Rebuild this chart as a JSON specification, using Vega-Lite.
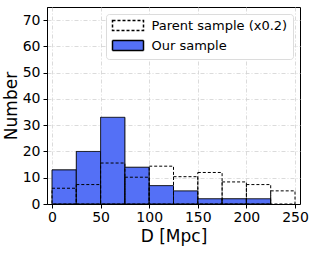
{
  "$schema": "https://vega.github.io/schema/vega-lite/v6.json",
  "autosize": {"type": "none"},
  "padding": {"left": 47, "top": 7, "right": 16, "bottom": 49},
  "width": 253,
  "height": 197,
  "config": {
    "font": "DejaVu Sans",
    "view": {"stroke": "black", "strokeWidth": 1},
    "axis": {
      "domainColor": "black", "tickColor": "black", "tickSize": 4,
      "labelColor": "black", "titleColor": "black",
      "labelFont": "DejaVu Sans", "titleFont": "DejaVu Sans",
      "labelFontSize": 14, "titleFontSize": 17, "titleFontWeight": "normal",
      "labelOverlap": false,
      "gridColor": "#d2d2d2", "gridDash": [4, 2, 1, 2], "gridWidth": 0.8
    }
  },
  "data": {
    "values": [
      {"series": "Our sample", "start": 0, "end": 25, "count": 13},
      {"series": "Our sample", "start": 25, "end": 50, "count": 20},
      {"series": "Our sample", "start": 50, "end": 75, "count": 33},
      {"series": "Our sample", "start": 75, "end": 100, "count": 14},
      {"series": "Our sample", "start": 100, "end": 125, "count": 7},
      {"series": "Our sample", "start": 125, "end": 150, "count": 5},
      {"series": "Our sample", "start": 150, "end": 175, "count": 2},
      {"series": "Our sample", "start": 175, "end": 200, "count": 2},
      {"series": "Our sample", "start": 200, "end": 225, "count": 2},
      {"series": "Parent sample (x0.2)", "start": 0, "end": 25, "count": 6.0},
      {"series": "Parent sample (x0.2)", "start": 25, "end": 50, "count": 7.4},
      {"series": "Parent sample (x0.2)", "start": 50, "end": 75, "count": 15.6},
      {"series": "Parent sample (x0.2)", "start": 75, "end": 100, "count": 10.2},
      {"series": "Parent sample (x0.2)", "start": 100, "end": 125, "count": 14.4},
      {"series": "Parent sample (x0.2)", "start": 125, "end": 150, "count": 10.4},
      {"series": "Parent sample (x0.2)", "start": 150, "end": 175, "count": 12.0},
      {"series": "Parent sample (x0.2)", "start": 175, "end": 200, "count": 8.4},
      {"series": "Parent sample (x0.2)", "start": 200, "end": 225, "count": 7.4},
      {"series": "Parent sample (x0.2)", "start": 225, "end": 250, "count": 5.0}
    ]
  },
  "mark": {"type": "bar", "stroke": "black", "strokeWidth": 1, "orient": "vertical"},
  "encoding": {
    "x": {
      "field": "start", "type": "quantitative",
      "scale": {"domain": [0, 250], "nice": false, "zero": false},
      "axis": {
        "values": [0, 50, 100, 150, 200, 250], "title": "D [Mpc]", "titlePadding": 4, "labelPadding": 2,
        "labelFlush": false, "labelAlign": "center", "labelBound": false,
        "encode": {"labels": {"update": {"align": {"value": "center"}}}}
      }
    },
    "x2": {"field": "end"},
    "y": {
      "field": "count", "type": "quantitative", "stack": null,
      "scale": {"domain": [0, 75], "nice": false},
      "axis": {"values": [0, 10, 20, 30, 40, 50, 60, 70], "title": "Number", "titlePadding": 2, "labelPadding": 3, "labelFlush": false}
    },
    "y2": {"datum": 0},
    "fill": {
      "field": "series", "type": "nominal",
      "scale": {"domain": ["Parent sample (x0.2)", "Our sample"], "range": ["transparent", "#5470f6"]},
      "legend": {
        "title": null, "orient": "top-right", "offset": 7,
        "fillColor": "white", "strokeColor": "#dcdcdc", "cornerRadius": 3, "padding": 5,
        "symbolType": "M-3.1,-1H3.1V1H-3.1Z", "symbolSize": 100, "symbolOffset": 10.5,
        "labelFontSize": 13, "labelColor": "black", "labelFont": "DejaVu Sans",
        "rowPadding": 3, "labelOffset": 17,
        "encode": {"symbols": {"update": {"stroke": {"value": "black"}, "strokeWidth": {"value": 1}}}}
      }
    },
    "strokeDash": {
      "field": "series", "type": "nominal",
      "scale": {"domain": ["Parent sample (x0.2)", "Our sample"], "range": [[3, 2], [1, 0]]},
      "legend": {
        "title": null, "orient": "top-right", "offset": 7,
        "fillColor": "white", "strokeColor": "#dcdcdc", "cornerRadius": 3, "padding": 5,
        "symbolType": "M-3.1,-1H3.1V1H-3.1Z", "symbolSize": 100, "symbolOffset": 10.5,
        "labelFontSize": 13, "labelColor": "black", "labelFont": "DejaVu Sans",
        "rowPadding": 3, "labelOffset": 17,
        "encode": {"symbols": {"update": {"stroke": {"value": "black"}, "strokeWidth": {"value": 1}}}}
      }
    }
  }
}
